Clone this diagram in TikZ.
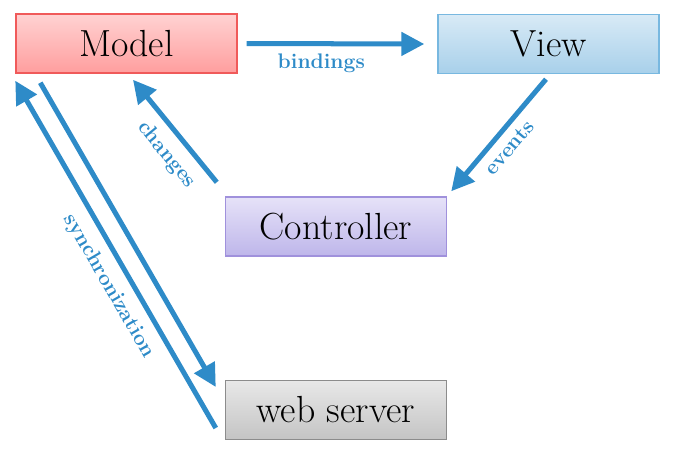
\documentclass[tikz,border=0pt]{standalone}
\usepackage{xcolor}
\usetikzlibrary{calc,positioning,arrows.meta}
\definecolor{flowblue}{HTML}{2E8BC8}
\begin{document}
\begin{tikzpicture}[x=0.02cm,y=-0.02cm,
    box/.style={draw,line width=0.85pt,minimum width=4.42cm,minimum height=1.18cm,inner sep=0pt,font=\fontsize{21.5}{25}\selectfont},
    flow/.style={flowblue,line width=2.85pt,-{Triangle[length=13pt,width=13pt]}},
    lbl/.style={flowblue,font=\fontsize{12}{14}\selectfont\bfseries,inner sep=1pt}]
  \useasboundingbox (0,0) rectangle (677,458);
  \node[box,draw={rgb,255:red,240;green,90;blue,90},top color={rgb,255:red,255;green,210;blue,210},bottom color={rgb,255:red,255;green,158;blue,158}] (model) at (126.5,43.5) {Model};
  \node[box,draw={rgb,255:red,120;green,184;blue,224},top color={rgb,255:red,216;green,234;blue,246},bottom color={rgb,255:red,168;green,208;blue,234}] (view) at (548.5,44) {View};
  \node[box,draw={rgb,255:red,160;green,145;blue,220},top color={rgb,255:red,230;green,226;blue,248},bottom color={rgb,255:red,190;green,182;blue,234}] (ctrl) at (336,226.5) {Controller};
  \node[box,draw={rgb,255:red,140;green,140;blue,140},top color={rgb,255:red,232;green,232;blue,232},bottom color={rgb,255:red,196;green,196;blue,196}] (server) at (336,410) {web server};
  \draw[flow] ($(model.east)+(9,0)$) -- ($(view.west)+(-13,0)$) node[lbl,pos=0.42,below=3.5pt] {bindings};
  \draw[flow] ($(view.south)+(-2.5,5)$) -- ($(ctrl.north east)+(4,-5)$) node[lbl,pos=0.52,sloped,below=3pt] {events};
  \draw[flow] ($(ctrl.north west)+(-8,-14)$) -- ($(model.south)+(6.5,6)$) node[lbl,pos=0.4,sloped,below=4.5pt] {changes};
  \draw[flow] ($(server.west)+(-9,18)$) -- ($(model.south west)+(0,7)$) node[lbl,pos=0.44,sloped,below=4.5pt] {synchronization};
  \draw[flow] ($(model.south west)+(25,9)$) -- ($(server.west)+(-9,-23)$);
\end{tikzpicture}
\end{document}
